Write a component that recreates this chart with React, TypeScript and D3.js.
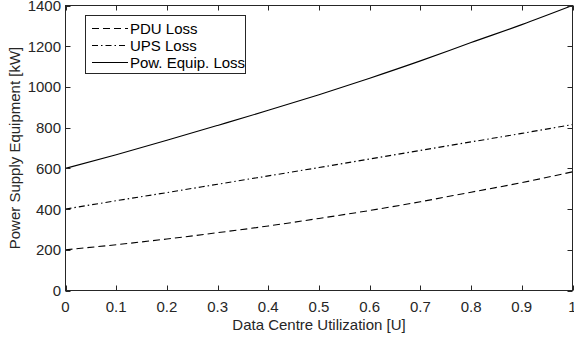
import React, { useEffect, useRef } from "react";
import * as d3 from "d3";

const utilization = [0, 0.1, 0.2, 0.3, 0.4, 0.5, 0.6, 0.7, 0.8, 0.9, 1.0];
const pduLoss = [200, 225, 253, 284, 317, 354, 393, 436, 483, 530, 583];
const upsLoss = [400, 441, 481, 522, 563, 604, 646, 688, 730, 772, 815];
const powEquipLoss = [600, 667, 738, 811, 885, 962, 1043, 1128, 1218, 1306, 1400];
const xTicks = [0, 0.1, 0.2, 0.3, 0.4, 0.5, 0.6, 0.7, 0.8, 0.9, 1];
const yTicks = [0, 200, 400, 600, 800, 1000, 1200, 1400];
const seriesNames = ["PDU Loss", "UPS Loss", "Pow. Equip. Loss"];

const W = 574;
const H = 339;
const M = { left: 65.5, right: 572.5, top: 5.5, bottom: 290.5 };
const AX = "#262626";
const FONT = "'Liberation Sans', Arimo, Arial, Helvetica, sans-serif";
const FS = 15;
const dashes = ["7,4", "6,3,1.5,3", null];

export default function App() {
  const ref = useRef<SVGSVGElement>(null);
  useEffect(() => {
    const svg = d3.select(ref.current);
    svg.selectAll("*").remove();
    const x = d3.scaleLinear().domain([0, 1]).range([M.left, M.right]);
    const y = d3.scaleLinear().domain([0, 1400]).range([M.bottom, M.top]);

    const series = [pduLoss, upsLoss, powEquipLoss];
    const line = d3
      .line<number>()
      .x((_, i) => x(utilization[i]))
      .y((d) => y(d))
      .curve(d3.curveMonotoneX);

    const g = svg.append("g");
    series.forEach((s, i) => {
      const p = g
        .append("path")
        .attr("d", line(s) as string)
        .attr("fill", "none")
        .attr("stroke", "#000")
        .attr("stroke-width", 1.1);
      if (dashes[i]) p.attr("stroke-dasharray", dashes[i] as string);
    });

    svg
      .append("rect")
      .attr("x", M.left)
      .attr("y", M.top)
      .attr("width", M.right - M.left)
      .attr("height", M.bottom - M.top)
      .attr("fill", "none")
      .attr("stroke", AX)
      .attr("stroke-width", 1);

    const tl = 5;
    xTicks.forEach((t) => {
      const xx = Math.round(x(t)) + 0.5;
      svg.append("line").attr("x1", xx).attr("x2", xx).attr("y1", M.bottom).attr("y2", M.bottom - tl).attr("stroke", AX);
      svg.append("line").attr("x1", xx).attr("x2", xx).attr("y1", M.top).attr("y2", M.top + tl).attr("stroke", AX);
      svg
        .append("text")
        .attr("x", x(t))
        .attr("y", 312)
        .attr("text-anchor", "middle")
        .attr("font-family", FONT)
        .attr("font-size", FS)
        .attr("fill", AX)
        .text(String(t));
    });
    yTicks.forEach((t) => {
      const yy = Math.round(y(t)) + 0.5;
      svg.append("line").attr("x1", M.left).attr("x2", M.left + tl).attr("y1", yy).attr("y2", yy).attr("stroke", AX);
      svg.append("line").attr("x1", M.right).attr("x2", M.right - tl).attr("y1", yy).attr("y2", yy).attr("stroke", AX);
      svg
        .append("text")
        .attr("x", 61)
        .attr("y", y(t) + 5.5)
        .attr("text-anchor", "end")
        .attr("font-family", FONT)
        .attr("font-size", FS)
        .attr("fill", AX)
        .text(String(t));
    });

    svg
      .append("text")
      .attr("x", (M.left + M.right) / 2)
      .attr("y", 330)
      .attr("text-anchor", "middle")
      .attr("font-family", FONT)
      .attr("font-size", FS)
      .attr("fill", AX)
      .text("Data Centre Utilization [U]");
    svg
      .append("text")
      .attr("transform", `translate(20,${(M.top + M.bottom) / 2}) rotate(-90)`)
      .attr("text-anchor", "middle")
      .attr("font-family", FONT)
      .attr("font-size", FS)
      .attr("fill", AX)
      .text("Power Supply Equipment [kW]");

    const lg = svg.append("g");
    lg.append("rect")
      .attr("x", 85.5)
      .attr("y", 15.5)
      .attr("width", 160)
      .attr("height", 58)
      .attr("fill", "#fff")
      .attr("stroke", AX)
      .attr("stroke-width", 1);
    const rowY = [28, 45, 62];
    seriesNames.forEach((n, i) => {
      const l = lg
        .append("line")
        .attr("x1", 92)
        .attr("x2", 128)
        .attr("y1", rowY[i] + 0.5)
        .attr("y2", rowY[i] + 0.5)
        .attr("stroke", "#000")
        .attr("stroke-width", 1.1);
      if (dashes[i]) l.attr("stroke-dasharray", dashes[i] as string);
      lg.append("text")
        .attr("x", 130)
        .attr("y", rowY[i] + 5.5)
        .attr("font-family", FONT)
        .attr("font-size", FS)
        .attr("fill", "#000")
        .text(n);
    });
  }, []);
  return (
    <svg
      ref={ref}
      width={W}
      height={H}
      style={{ position: "absolute", left: 0, top: 0, background: "#fff" }}
    />
  );
}
